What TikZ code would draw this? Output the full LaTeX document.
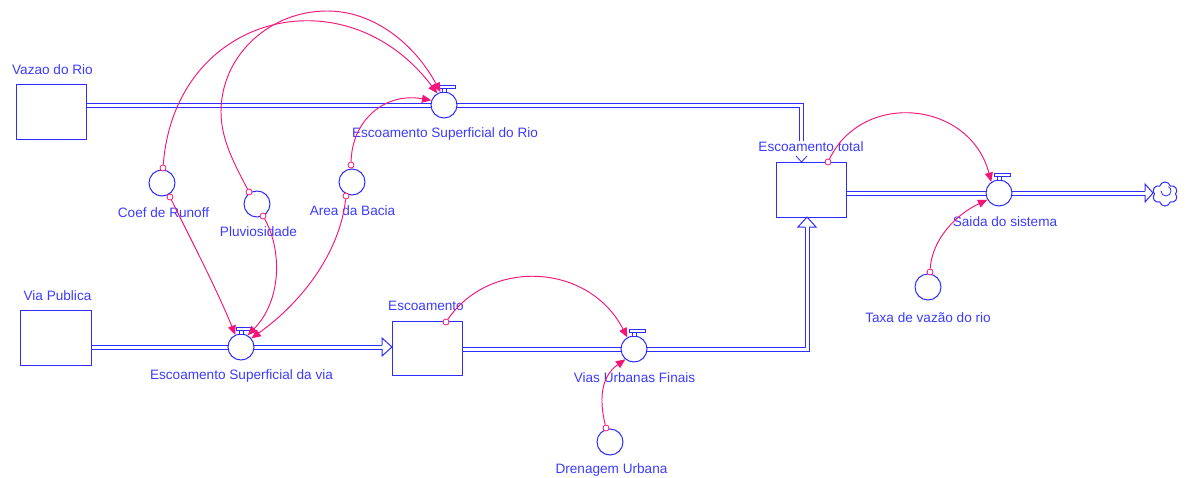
\documentclass[tikz,border=0pt]{standalone}
\usepackage{fontspec}
\setmainfont{Liberation Sans}
\usetikzlibrary{arrows.meta,shapes.symbols,calc}
\definecolor{vblue}{RGB}{45,45,255}
\definecolor{tblue}{RGB}{60,60,255}
\definecolor{lpink}{RGB}{245,20,120}
\tikzset{
  pipe/.style={draw=vblue, line width=0.75pt, double=white, double distance=2.25pt, line join=miter},
  pipehead/.style={draw=vblue, line width=0.75pt, fill=white, line join=miter},
  stockbox/.style={draw=vblue, line width=0.75pt, fill=white, rectangle, inner sep=0pt},
  auxc/.style={draw=vblue, line width=0.75pt, fill=white, circle, minimum size=19.5pt, inner sep=0pt},
  capbox/.style={draw=vblue, line width=0.6pt, fill=white},
  lbl/.style={text=tblue, font=\fontsize{10.2}{12}\selectfont, inner sep=1pt},
  link/.style={draw=lpink, line width=0.7pt, -{Triangle[length=7pt,width=6pt]}},
  tailc/.style={draw=lpink, line width=0.6pt, circle, fill=white, minimum size=4.5pt, inner sep=0pt},
}
\newcommand\valvecap[1]{%
  \draw[capbox] ($(#1)+(-5,-20)$) rectangle ($(#1)+(11,-17)$);
  \draw[capbox] ($(#1)+(-2,-17)$) rectangle ($(#1)+(2,-13)$);
}
\begin{document}
\begin{tikzpicture}[x=0.75pt,y=-0.75pt]
\useasboundingbox (0,0) rectangle (1188,478);
\fill[white] (0,0) rectangle (1188,478);

% stocks
\node[stockbox, minimum width=52.5pt, minimum height=40.5pt] (vazao) at (51,112) {};
\node[stockbox, minimum width=53.25pt, minimum height=41.25pt] (via) at (55.5,337.5) {};
\node[stockbox, minimum width=52.5pt, minimum height=40.5pt] (esc) at (427,348) {};
\node[stockbox, minimum width=52.5pt, minimum height=41.25pt] (etot) at (811,189.5) {};

% valve positions
\coordinate (pR) at (444,105);
\coordinate (pV) at (241,347);
\coordinate (pU) at (634,349);
\coordinate (pS) at (999,193);
\coordinate (tc) at (801,150);
\coordinate (bc) at (807,227);

% pipes
\draw[pipe] (vazao.east |- pR) -- (pR) -- (tc |- pR) -- (tc);
\draw[pipe] (via.east |- pV) -- (pV) -- (382,347);
\draw[pipe] (esc.east |- pU) -- (pU) -- (bc |- pU) -- (bc);
\draw[pipe] (etot.east |- pS) -- (pS) -- (1145,193);

% pipe heads
\draw[pipehead] (382,345) -- (382,338) -- (392,347) -- (382,356) -- (382,349);
\draw[pipehead] (805,227) -- (798,227) -- (807,217) -- (816,227) -- (809,227);
\draw[pipehead] (1145,191) -- (1145,184) -- (1153,193) -- (1145,202) -- (1145,195);
\draw[draw=vblue, line width=0.6pt] (796,156) -- (801.5,162) -- (807,156);

% sink cloud
\node[cloud, cloud puffs=6, aspect=1, draw=vblue, line width=0.75pt, fill=white,
      minimum width=19pt, minimum height=18pt, inner sep=0pt] (sink) at (1165,194) {};
\draw[vblue, line width=0.6pt] (1161,191) arc (180:-60:5);

% valves
\node[auxc] (vR) at (pR) {};
\node[auxc] (vV) at (pV) {};
\node[auxc] (vU) at (pU) {};
\node[auxc] (vS) at (pS) {};
\valvecap{pR}
\valvecap{pV}
\valvecap{pU}
\valvecap{pS}

% auxiliaries
\node[auxc] (coef) at (162,183) {};
\node[auxc] (pluv) at (257,204) {};
\node[auxc] (area) at (352,182) {};
\node[auxc] (taxa) at (928,287) {};
\node[auxc] (dren) at (610,442) {};

% labels
\node[lbl] at (52.5,70) {Vazao do Rio};
\node[lbl] at (445,134) {Escoamento Superficial do Rio};
\node[lbl, fill=white] at (811,147) {Escoamento total};
\node[lbl] at (1005,222) {Saida do sistema};
\node[lbl] at (928,318) {Taxa de vazão do rio};
\node[lbl] at (57.5,296) {Via Publica};
\node[lbl] at (241.5,376) {Escoamento Superficial da via};
\node[lbl] at (426,306) {Escoamento};
\node[lbl] at (634.5,378) {Vias Urbanas Finais};
\node[lbl] at (611.5,470) {Drenagem Urbana};
\node[lbl] at (163.5,213) {Coef de Runoff};
\node[lbl] at (258.5,232) {Pluviosidade};
\node[lbl] at (352.5,211) {Area da Bacia};

% connector tails
\node[tailc] (t1) at (163,168) {};
\node[tailc] (t2) at (170,197) {};
\node[tailc] (t3) at (249,192) {};
\node[tailc] (t4) at (263,216) {};
\node[tailc] (t5) at (351,165) {};
\node[tailc] (t6) at (346,196) {};
\node[tailc] (t7) at (446,322) {};
\node[tailc] (t8) at (606,428) {};
\node[tailc] (t9) at (828,162) {};
\node[tailc] (t10) at (930,272) {};

% connectors
\draw[link] (t1) .. controls (175,13) and (346,-28) .. (vR.120);
\draw[link] (t3) .. controls (235,165) and (221,140) .. (221,112)
                 .. controls (221,55) and (270,11) .. (327,11)
                 .. controls (375,11) and (415,45) .. (vR.105);
\draw[link] (t5) .. controls (352,120) and (385,92) .. (vR.160);
\draw[link] (t2) .. controls (185,228) and (215,285) .. (vV.115);
\draw[link] (t4) .. controls (282,250) and (282,300) .. (vV.60);
\draw[link] (t6) .. controls (340,250) and (305,300) .. (vV.40);
\draw[link] (t7) .. controls (490,258) and (589,263) .. (vU.120);
\draw[link] (t8) .. controls (598,395) and (603,375) .. (vU.230);
\draw[link] (t9) .. controls (863,90) and (970,101) .. (vS.125);
\draw[link] (t10) .. controls (932,240) and (955,215) .. (vS.210);
\end{tikzpicture}
\end{document}
